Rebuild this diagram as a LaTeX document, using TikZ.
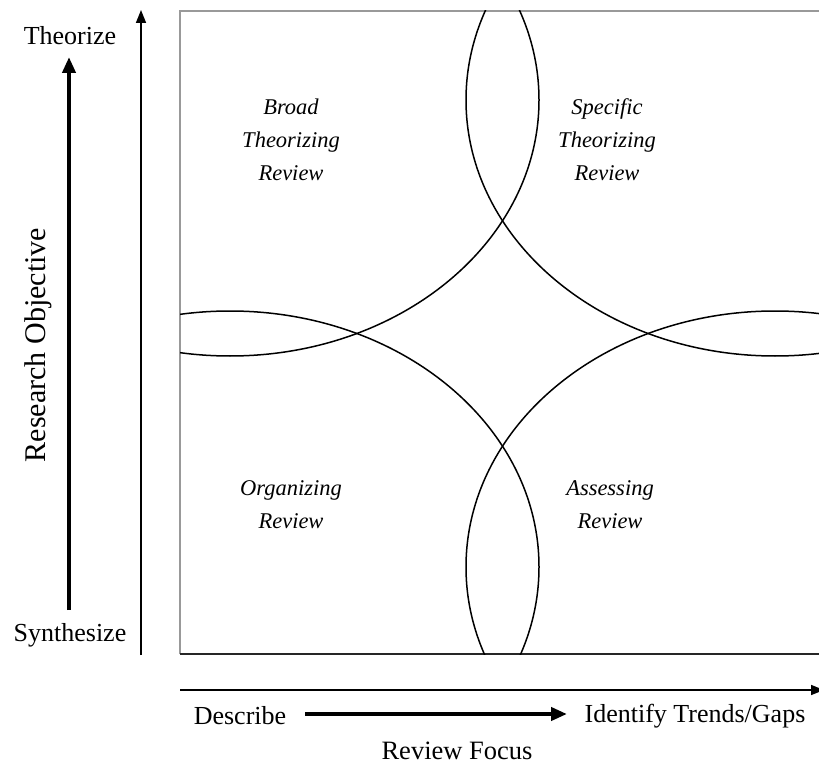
\documentclass[tikz,border=0pt]{standalone}
\usepackage{fontspec}
\setmainfont{Liberation Serif}
\usetikzlibrary{arrows.meta}

\begin{document}
\begin{tikzpicture}[x=1pt,y=-1pt,
  axisline/.style={line width=1.6pt,-{Triangle[width=10pt,length=13pt]}},
  dirarrow/.style={line width=4pt,-{Triangle[width=13pt,length=16pt]}},
  lens/.style={line width=1.5pt},
  endlabel/.style={font=\fontsize{26}{30}\selectfont,inner sep=0pt},
  axislabel/.style={font=\fontsize{26.5}{32}\selectfont,inner sep=0pt},
  quadlabel/.style={font=\fontsize{22.5}{33}\selectfont\itshape,align=center,inner sep=0pt}]

\useasboundingbox (0,0) rectangle (819,767);

% frame of the map
\coordinate (tl) at (180,11);
\coordinate (bl) at (180,654);
\coordinate (br) at (823,654);
\coordinate (tr) at (823,11);
\draw[gray!80,line width=1.2pt] (bl) -- (tl) -- (tr);
\draw[black!85,line width=1.2pt] (bl) -- (br);

% four overlapping ellipses, clipped to the frame
\begin{scope}
  \clip (tl) rectangle (br);
  \draw[lens] (230,100) ellipse [x radius=309pt, y radius=256pt];
  \draw[lens] (775,100) ellipse [x radius=309pt, y radius=256pt];
  \draw[lens] (230,567) ellipse [x radius=309pt, y radius=256pt];
  \draw[lens] (775,567) ellipse [x radius=309pt, y radius=256pt];
\end{scope}

% quadrant labels
\node[quadlabel] (broad) at (291,140) {Broad\\Theorizing\\Review};
\node[quadlabel] (specific) at (607,140) {Specific\\Theorizing\\Review};
\node[quadlabel] (organizing) at (291,505) {Organizing\\Review};
\node[quadlabel] (assessing) at (610,505) {Assessing\\Review};

% vertical axis
\coordinate (vaxisbot) at (141,655);
\coordinate (vaxistop) at (141,10);
\draw[axisline] (vaxisbot) -- (vaxistop);
\node[endlabel] (theorize) at (70,36) {Theorize};
\node[endlabel] (synthesize) at (70,635) {Synthesize};
\coordinate (objbot) at (69,610);
\coordinate (objtop) at (69,57);
\draw[dirarrow] (objbot) -- (objtop);
\node[axislabel,font=\fontsize{30}{34}\selectfont,rotate=90] (objective) at (38,345) {Research Objective};

% horizontal axis
\coordinate (haxisleft) at (180,690);
\coordinate (haxisright) at (824,690);
\draw[axisline] (haxisleft) -- (haxisright);
\node[endlabel] (describe) at (240,716) {Describe};
\node[endlabel] (identify) at (695,716) {Identify Trends/Gaps};
\coordinate (focusleft) at (305,714);
\coordinate (focusright) at (567,714);
\draw[dirarrow] (focusleft) -- (focusright);
\node[axislabel] (focus) at (457,751) {Review Focus};

\end{tikzpicture}
\end{document}
